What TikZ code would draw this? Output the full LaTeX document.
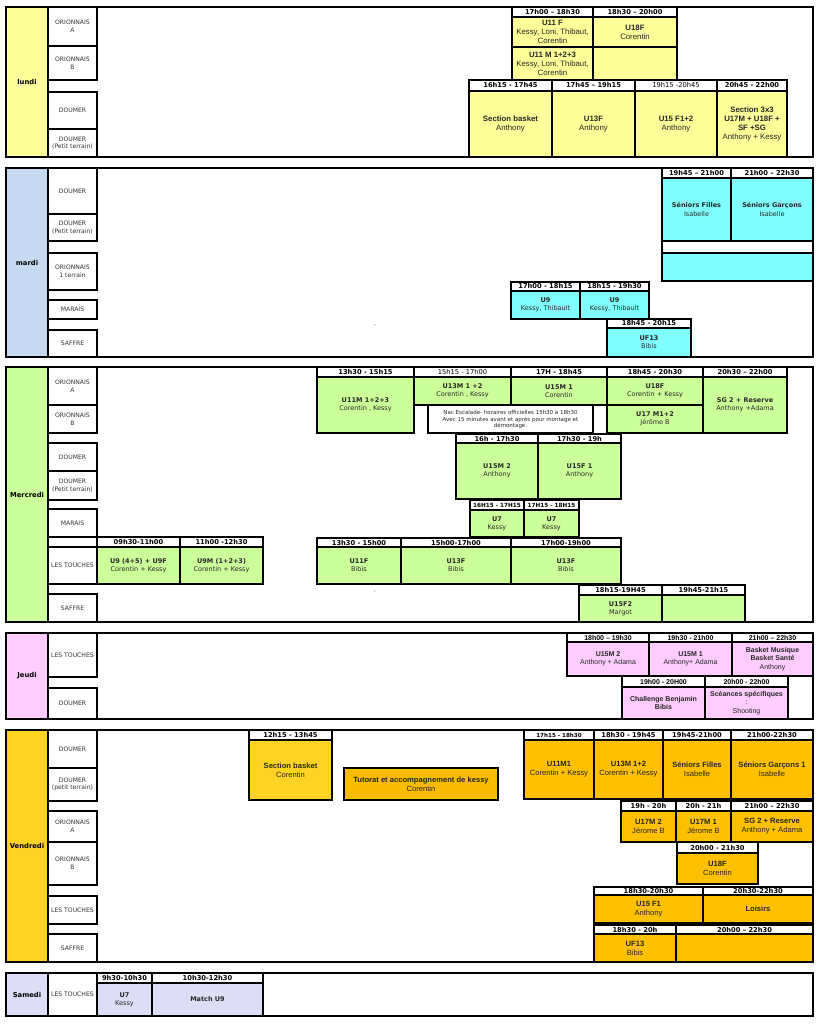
\documentclass[tikz,border=0pt]{standalone}
\usepackage{fontspec}
\setmainfont{DejaVu Sans}
\newfontfamily\lib{Liberation Sans}
\definecolor{ly}{HTML}{FFFF99}
\definecolor{mb}{HTML}{C5D9F1}
\definecolor{cy}{HTML}{80FFFF}
\definecolor{gr}{HTML}{CCFF99}
\definecolor{pk}{HTML}{FFCCFF}
\definecolor{gd}{HTML}{FFD324}
\definecolor{og}{HTML}{FFC000}
\definecolor{tu}{HTML}{F9BC00}
\definecolor{lv}{HTML}{DDDDF8}
\tikzset{
  ln/.style={draw=black, line width=1.8pt},
  hdrtxt/.style={font=\fontsize{6.7}{7.5}\selectfont\bfseries, inner sep=0pt, text=black},
  bodytxt/.style={font=\fontsize{6.5}{8.2}\selectfont, align=center, inner sep=0pt, text=black!85},
  venuetxt/.style={font=\fontsize{6.1}{7.6}\selectfont, align=center, inner sep=0pt, text=black!80},
  daytxt/.style={font=\fontsize{6.8}{8}\selectfont\bfseries, inner sep=0pt, text=black},
  smalltxt/.style={font=\fontsize{5.5}{6.6}\selectfont, align=center, inner sep=0pt, text=black!85}
}
\newcommand\tslot[9]{%
  \draw[ln, fill=white] (#2,#4) rectangle (#3,#5);
  \node[hdrtxt] (#1h) at ({(#2+#3)/2},{(#4+#5)/2}) {#8};
  \draw[ln, fill=#7] (#2,#5) rectangle (#3,#6);
  \node[bodytxt] (#1) at ({(#2+#3)/2},{(#5+#6)/2}) {#9};
}
\newcommand\tcell[7]{%
  \draw[ln, fill=#6] (#2,#4) rectangle (#3,#5);
  \node[bodytxt] (#1) at ({(#2+#3)/2},{(#4+#5)/2}) {#7};
}
\newcommand\tvenue[4]{%
  \draw[ln, fill=white] (48,#2) rectangle (97,#3);
  \node[venuetxt] (#1) at (72.5,{(#2+#3)/2}) {#4};
}
\newcommand\dayblock[5]{%
  \draw[ln, fill=white] (6,#2) rectangle (813,#3);
  \draw[ln, fill=#4] (6,#2) rectangle (48,#3);
  \node[daytxt] (#1) at (27,{(#2+#3)/2}) {#5};
}
\begin{document}
\begin{tikzpicture}[x=1pt, y=-1pt]
\useasboundingbox[fill=white] (0,0) rectangle (820,1024);

% ---------------- LUNDI ----------------
\begin{scope}
\tikzset{bodytxt/.append style={font=\lib\fontsize{7.8}{9}\selectfont}}
\dayblock{lundi}{7}{157}{ly}{lundi}
\tvenue{luoa}{7}{46}{ORIONNAIS\\A}
\tvenue{luob}{46}{80}{ORIONNAIS\\B}
\tvenue{ludo}{92}{129}{DOUMER}
\tvenue{ludp}{129}{157}{DOUMER\\(Petit terrain)}
\tslot{luA}{512}{593}{7}{17}{47}{ly}{17h00 – 18h30}{\textbf{U11 F}\\Kessy, Loni, Thibaut,\\Corentin}
\tslot{luB}{593}{677}{7}{17}{47}{ly}{18h30 – 20h00}{\textbf{U18F}\\Corentin}
\tcell{luC}{512}{593}{47}{80}{ly}{\textbf{U11 M 1+2+3}\\Kessy, Loni, Thibaut,\\Corentin}
\tcell{luD}{593}{677}{47}{80}{ly}{}
\tslot{luE}{469}{552}{80}{91}{157}{ly}{16h15 - 17h45}{\textbf{Section basket}\\Anthony}
\tslot{luF}{552}{635}{80}{91}{157}{ly}{17h45 – 19h15}{\textbf{U13F}\\Anthony}
\tslot{luG}{635}{717}{80}{91}{157}{ly}{\mdseries 19h15 -20h45}{\textbf{U15 F1+2}\\Anthony}
\tslot{luH}{717}{787}{80}{91}{157}{ly}{20h45 - 22h00}{\textbf{Section 3x3}\\\textbf{U17M + U18F +}\\\textbf{SF +SG}\\Anthony + Kessy}
\end{scope}

% ---------------- MARDI ----------------
\dayblock{mardi}{168}{357}{mb}{mardi}
\tvenue{mado}{168}{214}{DOUMER}
\tvenue{madp}{214}{241}{DOUMER\\(Petit terrain)}
\tvenue{maor}{253}{290}{ORIONNAIS\\1 terrain}
\tvenue{mama}{300}{319}{MARAIS}
\tvenue{masa}{330}{357}{SAFFRE}
\tslot{maA}{662}{731}{168}{178}{241}{cy}{19h45 – 21h00}{\textbf{Séniors Filles}\\Isabelle}
\tslot{maB}{731}{813}{168}{178}{241}{cy}{21h00 – 22h30}{\textbf{Séniors Garçons}\\Isabelle}
\tcell{maW}{662}{813}{241}{253}{white}{}
\tcell{maC}{662}{813}{253}{281}{cy}{}
\tslot{maD}{511}{580}{282}{291}{319}{cy}{17h00 - 18h15}{\textbf{U9}\\Kessy, Thibault}
\tslot{maE}{580}{649}{282}{291}{319}{cy}{18h15 - 19h30}{\textbf{U9}\\Kessy, Thibault}
\tslot{maF}{607}{691}{319}{328}{357}{cy}{18h45 - 20h15}{\textbf{UF13}\\Bibis}
\node[smalltxt] (macomma) at (375,325) {,};

% ---------------- MERCREDI ----------------
\dayblock{mercredi}{367}{622}{gr}{Mercredi}
\tvenue{meoa}{367}{405}{ORIONNAIS\\A}
\tvenue{meob}{405}{433}{ORIONNAIS\\B}
\tvenue{medo}{443}{471}{DOUMER}
\tvenue{medp}{471}{500}{DOUMER\\(Petit terrain)}
\tvenue{mema}{509}{537}{MARAIS}
\tvenue{meem}{537}{547}{}
\tvenue{mele}{547}{584}{LES TOUCHES}
\tvenue{mesa}{594}{622}{SAFFRE}
\tslot{meA}{317}{414}{367}{377}{433}{gr}{13h30 - 15h15}{\textbf{U11M 1+2+3}\\Corentin , Kessy}
\tslot{meB}{414}{511}{367}{377}{405}{gr}{\mdseries 15h15 - 17h00}{\textbf{U13M 1 +2}\\Corentin , Kessy}
\tslot{meC}{511}{607}{367}{377}{405}{gr}{17H - 18h45}{\textbf{U15M 1}\\Corentin}
\tslot{meD}{607}{703}{367}{377}{405}{gr}{18h45 - 20h30}{\textbf{U18F}\\Corentin + Kessy}
\tslot{meE}{703}{787}{367}{377}{433}{gr}{20h30 – 22h00}{\textbf{SG 2 + Reserve}\\Anthony +Adama}
\tcell{meF}{607}{703}{405}{433}{gr}{\textbf{U17 M1+2}\\Jérôme B}
\draw[ln, fill=white] (428,405) rectangle (593,433);
\node[smalltxt] (nac) at (510.5,419.5) {Nac Escalade- horaires officielles 15h30 à 18h30\\Avec 15 minutes avant et après pour montage et\\démontage.};
\tslot{meG}{456}{538}{434}{443}{499}{gr}{16h - 17h30}{\textbf{U15M 2}\\Anthony}
\tslot{meH}{538}{621}{434}{443}{499}{gr}{17h30 - 19h}{\textbf{U15F 1}\\Anthony}
\begin{scope}
\tikzset{hdrtxt/.append style={font=\fontsize{5.7}{6.5}\selectfont\bfseries}}
\tslot{meI}{470}{524}{500}{510}{537}{gr}{16H15 - 17H15}{\textbf{U7}\\Kessy}
\tslot{meJ}{524}{579}{500}{510}{537}{gr}{17H15 - 18H15}{\textbf{U7}\\Kessy}
\end{scope}
\tslot{meK}{97}{180}{537}{547}{584}{gr}{09h30-11h00}{\textbf{U9 (4+5) + U9F}\\Corentin + Kessy}
\tslot{meL}{180}{263}{537}{547}{584}{gr}{11h00 -12h30}{\textbf{U9M (1+2+3)}\\Corentin + Kessy}
\tslot{meM}{317}{401}{538}{547}{584}{gr}{13h30 - 15h00}{\textbf{U11F}\\Bibis}
\tslot{meN}{401}{511}{538}{547}{584}{gr}{15h00-17h00}{\textbf{U13F}\\Bibis}
\tslot{meO}{511}{621}{538}{547}{584}{gr}{17h00-19h00}{\textbf{U13F}\\Bibis}
\tslot{meP}{579}{662}{585}{595}{622}{gr}{18h15-19H45}{\textbf{U15F2}\\Margot}
\tslot{meQ}{662}{745}{585}{595}{622}{gr}{19h45-21h15}{}
\node[smalltxt] (mecomma) at (375,591) {,};

% ---------------- JEUDI ----------------
\begin{scope}
\tikzset{bodytxt/.append style={font=\lib\fontsize{7}{8.2}\selectfont},
         hdrtxt/.append style={font=\lib\fontsize{7}{7.5}\selectfont\bfseries}}
\dayblock{jeudi}{633}{719}{pk}{Jeudi}
\tvenue{jele}{633}{677}{LES TOUCHES}
\tvenue{jedo}{688}{719}{DOUMER}
\tslot{jeA}{567}{649}{633}{642}{676}{pk}{18h00 – 19h30}{\textbf{U15M 2}\\Anthony + Adama}
\tslot{jeB}{649}{732}{633}{642}{676}{pk}{19h30 - 21h00}{\textbf{U15M 1}\\Anthony+ Adama}
\tslot{jeC}{732}{813}{633}{642}{676}{pk}{21h00 – 22h30}{\textbf{Basket Musique}\\\textbf{Basket Santé}\\Anthony}
\tslot{jeD}{622}{705}{676}{687}{719}{pk}{19h00 - 20H00}{\textbf{Challenge Benjamin}\\\textbf{Bibis}}
\tslot{jeE}{705}{788}{676}{687}{719}{pk}{20h00 - 22h00}{\textbf{Scéances spécifiques}\\:\\Shooting}
\tcell{jeF}{788}{813}{676}{719}{white}{}
\end{scope}

% ---------------- VENDREDI ----------------
\begin{scope}
\tikzset{bodytxt/.append style={font=\lib\fontsize{7.6}{8.8}\selectfont}}
\dayblock{vendredi}{730}{962}{gd}{Vendredi}
\tvenue{vedo}{730}{768}{DOUMER}
\tvenue{vedp}{768}{801}{DOUMER\\(petit terrain)}
\tvenue{veoa}{811}{842}{ORIONNAIS\\A}
\tvenue{veob}{842}{885}{ORIONNAIS\\B}
\tvenue{vele}{896}{924}{LES TOUCHES}
\tvenue{vesa}{934}{962}{SAFFRE}
\tslot{veA}{249}{332}{730}{740}{800}{gd}{12h15 - 13h45}{\textbf{Section basket}\\Corentin}
\tcell{veB}{344}{498}{768}{800}{tu}{\textbf{Tutorat et accompagnement de kessy}\\Corentin}
\begin{scope}
\tikzset{hdrtxt/.append style={font=\fontsize{5.6}{6.5}\selectfont\bfseries}}
\tslot{veC}{524}{594}{730}{740}{799}{og}{17h15 - 18h30}{\textbf{U11M1}\\Corentin + Kessy}
\end{scope}
\tslot{veD}{594}{663}{730}{740}{799}{og}{18h30 - 19h45}{\textbf{U13M 1+2}\\Corentin + Kessy}
\tslot{veE}{663}{731}{730}{740}{799}{og}{19h45-21h00}{\textbf{Séniors Filles}\\Isabelle}
\tslot{veF}{731}{813}{730}{740}{799}{og}{21h00-22h30}{\textbf{Séniors Garçons 1}\\Isabelle}
\tslot{veG}{621}{676}{801}{811}{842}{og}{19h - 20h}{\textbf{U17M 2}\\Jérome B}
\tslot{veH}{676}{731}{801}{811}{842}{og}{20h - 21h}{\textbf{U17M 1}\\Jérome B}
\tslot{veI}{731}{813}{801}{811}{842}{og}{21h00 – 22h30}{\textbf{SG 2  + Reserve}\\Anthony + Adama}
\tslot{veJ}{677}{758}{842}{853}{884}{og}{20h00 - 21h30}{\textbf{U18F}\\Corentin}
\tslot{veK}{594}{703}{887}{895}{923}{og}{18h30-20h30}{\textbf{U15 F1}\\Anthony}
\tslot{veL}{703}{813}{887}{895}{923}{og}{20h30-22h30}{\textbf{Loisirs}}
\tslot{veM}{594}{676}{925}{934}{962}{og}{18h30 - 20h}{\textbf{UF13}\\Bibis}
\tslot{veN}{676}{813}{925}{934}{962}{og}{20h00 – 22h30}{}
\end{scope}

% ---------------- SAMEDI ----------------
\dayblock{samedi}{973}{1016}{lv}{Samedi}
\tvenue{sale}{973}{1016}{LES TOUCHES}
\tslot{saA}{97}{152}{973}{983}{1016}{lv}{9h30-10h30}{\textbf{U7}\\Kessy}
\tslot{saB}{152}{263}{973}{983}{1016}{lv}{10h30-12h30}{\textbf{Match U9}}
\end{tikzpicture}
\end{document}
